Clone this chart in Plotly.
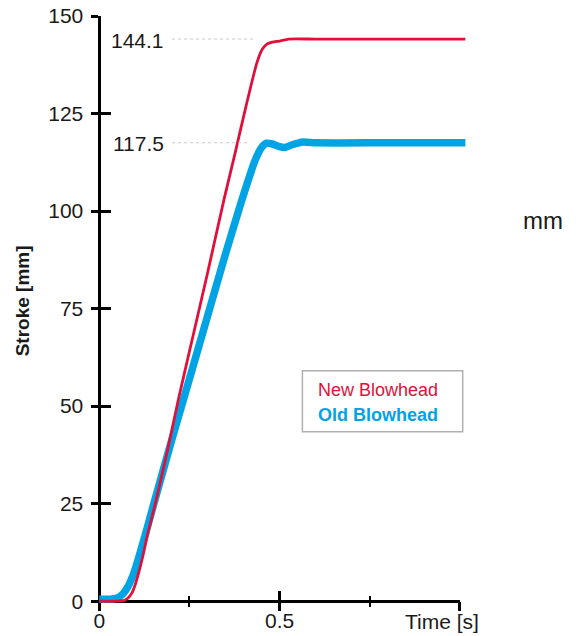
import plotly.graph_objects as go

# ---- data ----
t_new = [0, 0.05, 0.07, 0.08, 0.09, 0.10, 0.11, 0.12, 0.135, 0.155, 0.19, 0.219, 0.25,
         0.30, 0.346, 0.377, 0.409, 0.437, 0.452, 0.465, 0.48, 0.50, 0.525, 0.60, 0.80, 1.015]
stroke_new = [0, 0, 0.2, 0.8, 2.0, 4.3, 7.5, 11.2, 17.5, 24.8, 39, 51.5, 64,
              84, 103, 115, 127.7, 138, 141.5, 142.8, 143.3, 143.6, 144.1, 144.1, 144.1, 144.1]

t_old = [0, 0.03, 0.05, 0.065, 0.08, 0.09, 0.10, 0.12, 0.15, 0.20, 0.233, 0.30, 0.35,
         0.396, 0.432, 0.45, 0.464, 0.48, 0.50, 0.515, 0.535, 0.565, 0.60, 0.80, 1.015]
stroke_old = [0.5, 0.5, 0.8, 1.8, 3.8, 5.8, 8.3, 14.5, 24.5, 41, 51.5, 73, 89,
              103, 113, 116.3, 117.4, 117.2, 116.5, 116.3, 117.0, 117.7, 117.5, 117.5, 117.5]

series_names = ["New Blowhead", "Old Blowhead"]
final_values = [144.1, 117.5]
final_labels = ["144.1", "117.5"]
ref_line_end = [0.432, 0.413]

y_ticks = [0, 25, 50, 75, 100, 125, 150]
x_ticks = [0, 0.5, 1.0]
x_ticktext = ["0", "0.5", ""]
x_minor = [0.25, 0.75]

RED = "#e0103a"
BLUE = "#00a4e4"
FONT = "Liberation Sans, Arial, sans-serif"

# ---- geometry (pixels in the 579x636 window; page body has an 8px margin) ----
OFF = 8
WIDTH, HEIGHT = 579 - OFF, 636 - OFF
L, W = 91.78 - OFF, 377.2
T, H = 16.0 - OFF, 592.8
XR_DATA = [-0.02, 1.025]
XR_AXIS = [-0.02, 1.0005]
YR = [-2, 150.01]
D = (XR_AXIS[1] - XR_AXIS[0]) / (XR_DATA[1] - XR_DATA[0])


def px(xp):
    return (xp - OFF - L) / W


def py(yp):
    return (T + H - (yp - OFF)) / H


x0_paper = (0 - XR_AXIS[0]) / (XR_AXIS[1] - XR_AXIS[0]) * D
y0_paper = (0 - YR[0]) / (YR[1] - YR[0])

fig = go.Figure()
# empty traces to realise the axis pairs
fig.add_trace(go.Scatter(x=[], y=[], xaxis="x", yaxis="y", showlegend=False, hoverinfo="skip"))
fig.add_trace(go.Scatter(x=[], y=[], xaxis="x2", yaxis="y2", showlegend=False, hoverinfo="skip"))

fig.add_trace(go.Scatter(x=t_old, y=stroke_old, mode="lines", name=series_names[1],
                         line=dict(color=BLUE, width=7.5, shape="spline", smoothing=0.6),
                         xaxis="x3", yaxis="y", showlegend=False))
fig.add_trace(go.Scatter(x=t_new, y=stroke_new, mode="lines", name=series_names[0],
                         line=dict(color=RED, width=2.8, shape="spline", smoothing=0.6),
                         xaxis="x3", yaxis="y", showlegend=False))

axis_common = dict(showgrid=False, zeroline=False, fixedrange=True)

fig.update_layout(
    width=WIDTH, height=HEIGHT,
    margin=dict(l=L, r=WIDTH - L - W, t=T, b=HEIGHT - T - H, autoexpand=False),
    paper_bgcolor="white", plot_bgcolor="rgba(0,0,0,0)",
    font=dict(family=FONT, size=21, color="#1a1a1a"),
    showlegend=False,
    # x axis: line + inside half of ticks + labels
    xaxis=dict(domain=[0, D], range=XR_AXIS, anchor="free", position=y0_paper,
               showline=True, linecolor="black", linewidth=2.5,
               ticks="inside", ticklen=9, tickwidth=2.5, tickcolor="black",
               tickmode="array", tickvals=x_ticks, ticktext=x_ticktext,
               ticklabelstandoff=0, ticklabeloverflow="allow",
               tickfont=dict(size=21, color="#1a1a1a"),
               minor=dict(tickmode="array", tickvals=x_minor, ticks="inside",
                          ticklen=4.5, tickwidth=2, tickcolor="black"),
               **axis_common),
    # x axis: outside half of ticks
    xaxis2=dict(overlaying="x", range=XR_AXIS, anchor="free", position=y0_paper,
                showline=False, ticks="outside", ticklen=9, tickwidth=2.5, tickcolor="black",
                tickmode="array", tickvals=x_ticks, showticklabels=False,
                minor=dict(tickmode="array", tickvals=x_minor, ticks="outside",
                           ticklen=4.5, tickwidth=2, tickcolor="black"),
                **axis_common),
    xaxis3=dict(domain=[0, 1], range=XR_DATA, anchor="y", visible=False, **axis_common),
    yaxis=dict(domain=[0, 1], range=YR, anchor="free", position=x0_paper,
               showline=True, linecolor="black", linewidth=2.5,
               ticks="outside", ticklen=7, tickwidth=2.5, tickcolor="black",
               tickmode="array", tickvals=y_ticks, ticklabelstandoff=4,
               ticklabeloverflow="allow",
               tickfont=dict(size=21, color="#1a1a1a"),
               **axis_common),
    yaxis2=dict(overlaying="y", range=YR, anchor="free", position=x0_paper,
                showline=False, ticks="inside", ticklen=11, tickwidth=2.5, tickcolor="black",
                tickmode="array", tickvals=y_ticks, showticklabels=False,
                **axis_common),
)

shapes = []
annotations = []
for val, lab, xe in zip(final_values, final_labels, ref_line_end):
    shapes.append(dict(type="line", xref="x3", yref="y", x0=0.202, x1=xe, y0=val, y1=val,
                       line=dict(color="#c8c8c8", width=1, dash="dot")))
    annotations.append(dict(xref="paper", yref="y", x=px(166), y=val, yshift=-1,
                            xanchor="right", yanchor="middle", text=lab, showarrow=False,
                            font=dict(size=21, color="#1a1a1a")))

# legend frame and entries
shapes.append(dict(type="rect", xref="paper", yref="paper",
                   x0=px(302.3), x1=px(462.7), y0=py(431.7), y1=py(370.7),
                   line=dict(color="#b0b0b0", width=1.5), fillcolor="rgba(0,0,0,0)"))
annotations.append(dict(xref="paper", yref="paper", x=px(316), y=py(390), xanchor="left",
                        yanchor="middle", text=series_names[0], showarrow=False,
                        font=dict(size=18, color=RED)))
annotations.append(dict(xref="paper", yref="paper", x=px(316), y=py(415), xanchor="left",
                        yanchor="middle", text="<b>" + series_names[1] + "</b>", showarrow=False,
                        font=dict(size=18, color=BLUE)))

# axis titles and unit
annotations.append(dict(xref="paper", yref="paper", x=px(481), y=py(621), xanchor="right",
                        yanchor="middle", text="Time [s]", showarrow=False,
                        font=dict(size=21, color="#1a1a1a")))
annotations.append(dict(xref="paper", yref="paper", x=px(22), y=py(301), xanchor="center",
                        yanchor="middle", text="<b>Stroke [mm]</b>", textangle=-90,
                        showarrow=False, font=dict(size=19, color="#1a1a1a")))
annotations.append(dict(xref="paper", yref="paper", x=px(543), y=py(220), xanchor="center",
                        yanchor="middle", text="mm", showarrow=False,
                        font=dict(size=24, color="#1a1a1a")))

fig.update_layout(shapes=shapes, annotations=annotations)
fig.write_html("out.html")
